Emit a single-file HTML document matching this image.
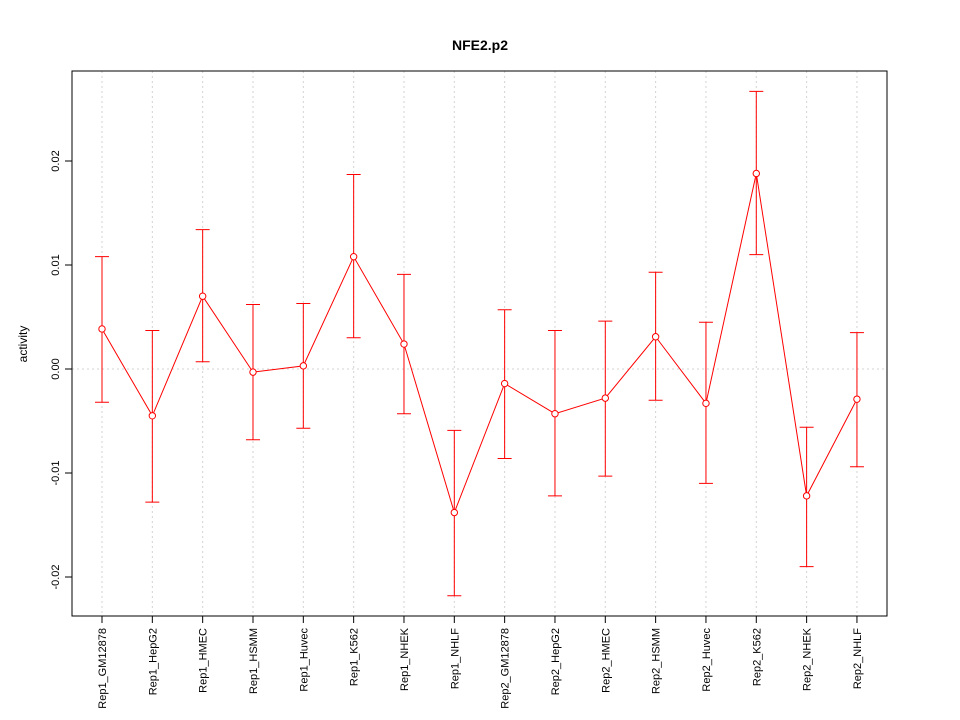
<!DOCTYPE html>
<html><head><meta charset="utf-8"><style>body{margin:0;background:#fff}svg{display:block;font-family:"Liberation Sans",sans-serif}</style></head>
<body>
<svg id="chart" width="960" height="720" xmlns="http://www.w3.org/2000/svg">
<rect width="960" height="720" fill="#fff"/>
<text x="480" y="50" text-anchor="middle" font-size="14" font-weight="bold">NFE2.p2</text>
<text transform="translate(27,344) rotate(-90)" text-anchor="middle" font-size="12">activity</text>
<g id="grid"></g><g id="axes"></g><g id="marks"></g>
<rect x="72" y="71" width="815" height="545" fill="none" stroke="#000"/>
</svg>
<script>
const categories=["Rep1_GM12878","Rep1_HepG2","Rep1_HMEC","Rep1_HSMM","Rep1_Huvec","Rep1_K562","Rep1_NHEK","Rep1_NHLF","Rep2_GM12878","Rep2_HepG2","Rep2_HMEC","Rep2_HSMM","Rep2_Huvec","Rep2_K562","Rep2_NHEK","Rep2_NHLF"];
const values=[0.00385,-0.0045,0.0070,-0.0003,0.0003,0.0108,0.0024,-0.0138,-0.0014,-0.0043,-0.0028,0.0031,-0.0033,0.0188,-0.0122,-0.0029];
const upper=[0.0108,0.0037,0.0134,0.0062,0.0063,0.0187,0.0091,-0.0059,0.0057,0.0037,0.0046,0.0093,0.0045,0.0267,-0.0056,0.0035];
const lower=[-0.0032,-0.0128,0.0007,-0.0068,-0.0057,0.0030,-0.0043,-0.0218,-0.0086,-0.0122,-0.0103,-0.0030,-0.0110,0.0110,-0.0190,-0.0094];
const yTicks=[-0.02,-0.01,0,0.01,0.02];
const yTickLabels=["-0.02","-0.01","0.00","0.01","0.02"];
const NS="http://www.w3.org/2000/svg";
const y=v=>369-v*10400;
const x=i=>102+i*50.33;
function mk(tag,attrs,parent){const e=document.createElementNS(NS,tag);for(const k in attrs)e.setAttribute(k,attrs[k]);document.getElementById(parent).appendChild(e);return e;}
categories.forEach((c,i)=>{
 const g=mk('line',{x1:x(i),x2:x(i),y1:71,y2:616,stroke:'#d3d3d3','stroke-dasharray':'2,3'},'grid');
 
 
 const t=mk('line',{x1:x(i),x2:x(i),y1:616,y2:623,stroke:'#000'},'axes');
 
 
 const l=mk('text',{transform:`translate(${x(i)+4},628) rotate(-90)`,'text-anchor':'end','font-size':'11'},'axes');
 l.textContent=c;
 
 
});
const hg=mk('line',{x1:72,x2:887,y1:y(0),y2:y(0),stroke:'#d3d3d3','stroke-dasharray':'2,3'},'grid');


yTicks.forEach((v,i)=>{
 const t=mk('line',{x1:65,x2:72,y1:y(v),y2:y(v),stroke:'#000'},'axes');
 
 
 const l=mk('text',{transform:`translate(59,${y(v)}) rotate(-90)`,'text-anchor':'middle','font-size':'11'},'axes');
 l.textContent=yTickLabels[i];
 
 
});
const pl=mk('polyline',{points:values.map((v,i)=>x(i)+','+y(v)).join(' '),fill:'none',stroke:'#f00'},'marks');


values.forEach((v,i)=>{
 const e=mk('path',{d:`M${x(i)},${y(upper[i])}V${y(lower[i])}M${x(i)-7},${y(upper[i])}h14M${x(i)-7},${y(lower[i])}h14`,stroke:'#f00',fill:'none'},'marks');
 
 
 const p=mk('circle',{cx:x(i),cy:y(v),r:3.2,fill:'#fff',stroke:'#f00'},'marks');
 
 
});
</script>
</body></html>
